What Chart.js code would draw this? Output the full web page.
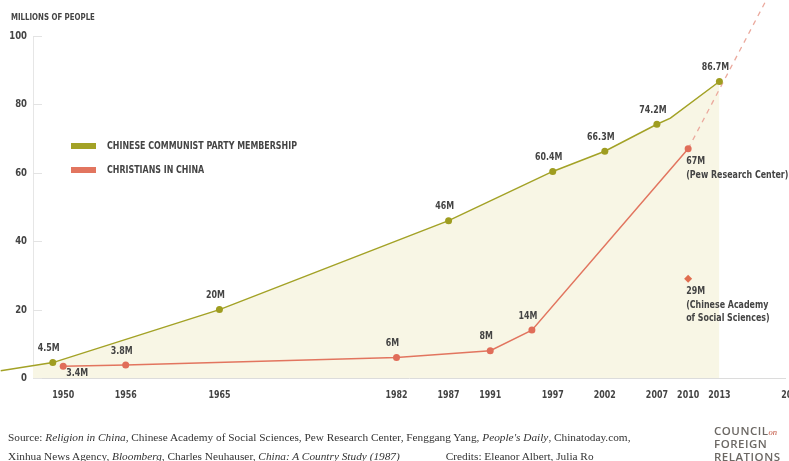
<!DOCTYPE html>
<html>
<head>
<meta charset="utf-8">
<script src="https://cdn.jsdelivr.net/npm/chart.js@4.4.1/dist/chart.umd.min.js"></script>
<style>
  html, body { margin: 0; padding: 0; background: #fff; }
  .wrap { position: relative; width: 789px; height: 461px; overflow: hidden; }
  canvas { position: absolute; left: 0; top: 0; }
  .source { position: absolute; left: 8px; top: 428px; font: 11.3px "Liberation Serif", "DejaVu Serif", serif; color: #333; line-height: 19px; white-space: nowrap; }
  .credits { margin-left: 46px; }
  .logo { position: absolute; left: 714px; top: 424px; font: 600 11.5px "Open Sans", sans-serif; color: #6c6864; line-height: 13px; letter-spacing: 0.5px; }
  .logo i { font: italic 8.5px "Liberation Serif", serif; color: #c0503c; letter-spacing: 0; }
</style>
</head>
<body>
<div class="wrap">
  <canvas id="chart" width="789" height="461"></canvas>
  <div class="source">Source: <i>Religion in China</i>, Chinese Academy of Social Sciences, Pew Research Center, Fenggang Yang, <i>People's Daily</i>, Chinatoday.com,<br>Xinhua News Agency, <i>Bloomberg</i>, Charles Neuhauser, <i>China: A Country Study (1987)</i><span class="credits">Credits: Eleanor Albert, Julia Ro</span></div>
  <div class="logo">COUNCIL<i>on</i><br>FOREIGN<br>RELATIONS</div>
</div>
<script>
// values (millions of people)
const ccpYears = [1944, 1949, 1965, 1987, 1997, 2002, 2007, 2008.3, 2013];
const ccpMembers = [2.1, 4.5, 20, 46, 60.4, 66.3, 74.2, 76.0, 86.7];
const ccpLabels = ['', '4.5M', '20M', '46M', '60.4M', '66.3M', '74.2M', '', '86.7M'];

const christianYears = [1950, 1956, 1982, 1991, 1995, 2010];
const christians = [3.4, 3.8, 6, 8, 14, 67];
const christianLabels = ['3.4M', '3.8M', '6M', '8M', '14M', '67M\n(Pew Research Center)'];

const trendYears = [2010, 2020];
const trend = [67, 125];

const casYears = [2010];
const casEstimate = [29];
const casLabels = ['29M\n(Chinese Academy\nof Social Sciences)'];

const xTicks = [1950, 1956, 1965, 1982, 1987, 1991, 1997, 2002, 2007, 2010, 2013, 2020];
const yTicks = [0, 20, 40, 60, 80, 100];

const olive = '#a3a226';
const red = '#e2755f';
const textColor = '#444';
const boldFont = '"DejaVu Sans Condensed", "Liberation Sans Narrow", "Roboto", sans-serif';

const toPoints = (xs, ys) => xs.map((x, i) => ({ x, y: ys[i] }));

// where each label sits relative to its point
const labelSets = [
  { dataset: 0, texts: ccpLabels, place: ccpLabels.map(() => 'above') },
  { dataset: 1, texts: christianLabels, place: ['right', 'above', 'above', 'above', 'above', 'below'] },
  { dataset: 3, texts: casLabels, place: ['below'] },
];

// the original uses a narrow grotesque, so squeeze the text a bit
function squeezed(ctx, text, x, y, align, size, squeeze) {
  ctx.save();
  ctx.font = 'bold ' + size + 'px ' + boldFont;
  ctx.textAlign = align;
  ctx.textBaseline = 'middle';
  ctx.translate(x, y);
  ctx.scale(squeeze, 1);
  ctx.fillText(text, 0, 0);
  ctx.restore();
}

const annotate = {
  id: 'annotate',
  afterDatasetsDraw(chart) {
    const { ctx, chartArea, scales: { x, y } } = chart;
    ctx.save();

    // y axis: short inner tick marks and labels
    ctx.strokeStyle = '#e3e3e3';
    ctx.lineWidth = 1;
    ctx.fillStyle = textColor;
    yTicks.forEach((v) => {
      const py = Math.round(y.getPixelForValue(v)) + 0.5;
      ctx.beginPath();
      ctx.moveTo(chartArea.left, py);
      ctx.lineTo(chartArea.left + 9, py);
      ctx.stroke();
      squeezed(ctx, String(v), chartArea.left - 6, py, 'right', 11, 0.86);
    });

    // x axis labels
    xTicks.forEach((v) => {
      squeezed(ctx, String(v), x.getPixelForValue(v), chartArea.bottom + 17, 'center', 11, 0.8);
    });

    squeezed(ctx, 'MILLIONS OF PEOPLE', 11, 18, 'left', 9.5, 0.82);

    // legend
    [0, 1].forEach((i, n) => {
      const ds = chart.data.datasets[i];
      const ly = 146 + n * 24;
      ctx.fillStyle = ds.borderColor;
      ctx.fillRect(71, ly - 3, 25, 6);
      ctx.fillStyle = textColor;
      squeezed(ctx, ds.label, 107, ly, 'left', 10, 0.88);
    });

    // point labels
    labelSets.forEach((set) => {
      const meta = chart.getDatasetMeta(set.dataset);
      meta.data.forEach((pt, i) => {
        const txt = set.texts[i];
        if (!txt) return;
        const lines = txt.split('\n');
        const p = set.place[i];
        if (p === 'above') {
          squeezed(ctx, lines[0], pt.x - 4, pt.y - 14, 'center', 10, 0.88);
        } else if (p === 'right') {
          squeezed(ctx, lines[0], pt.x + 3, pt.y + 7, 'left', 10, 0.88);
        } else {
          lines.forEach((l, k) => squeezed(ctx, l, pt.x - 2, pt.y + 13 + k * 13.5, 'left', 10, 0.88));
        }
      });
    });
    ctx.restore();
  },
};

new Chart(document.getElementById('chart'), {
  type: 'line',
  data: {
    datasets: [
      {
        label: 'CHINESE COMMUNIST PARTY MEMBERSHIP',
        data: toPoints(ccpYears, ccpMembers),
        borderColor: olive,
        backgroundColor: '#f8f6e5',
        pointBackgroundColor: '#9f9d20',
        pointBorderWidth: 0,
        pointRadius: (c) => (ccpLabels[c.dataIndex] ? 3.5 : 0),
        borderWidth: 1.5,
        fill: 'origin',
        tension: 0,
        clip: { left: 40, top: 0, right: 0, bottom: 0 },
      },
      {
        label: 'CHRISTIANS IN CHINA',
        data: toPoints(christianYears, christians),
        borderColor: red,
        pointBackgroundColor: '#e06d59',
        pointBorderWidth: 0,
        pointRadius: 3.5,
        borderWidth: 1.5,
        fill: false,
        tension: 0,
      },
      {
        label: 'trend',
        data: toPoints(trendYears, trend),
        borderColor: '#eba99d',
        borderWidth: 1.3,
        borderDash: [5, 5],
        pointRadius: 0,
        fill: false,
        clip: { left: 0, top: 40, right: 10, bottom: 0 },
      },
      {
        label: 'CASS estimate',
        data: toPoints(casYears, casEstimate),
        showLine: false,
        pointStyle: 'rectRot',
        pointRadius: 4,
        pointBorderWidth: 0,
        pointBackgroundColor: '#e06d4f',
        borderColor: '#e06d4f',
      },
    ],
  },
  options: {
    responsive: false,
    animation: false,
    devicePixelRatio: 1,
    layout: { padding: { top: 36, left: 0, right: 0, bottom: 60 } },
    plugins: {
      legend: { display: false },
      tooltip: { enabled: false },
      filler: { drawTime: 'beforeDatasetsDraw' },
    },
    scales: {
      x: {
        type: 'linear',
        min: 1947.1,
        max: 2019.3,
        afterFit: (s) => { s.height = 23; s.paddingLeft = 0; s.paddingRight = 0; },
        grid: { display: false, drawTicks: false },
        border: { display: true, color: '#dcdcdc', dash: [4, 3] },
        ticks: { display: false },
      },
      y: {
        min: 0,
        max: 100,
        afterFit: (s) => { s.width = 33; },
        grid: { display: false, drawTicks: false },
        border: { display: true, color: '#e6e6e6' },
        ticks: { display: false },
      },
    },
  },
  plugins: [annotate],
});
</script>
</body>
</html>
